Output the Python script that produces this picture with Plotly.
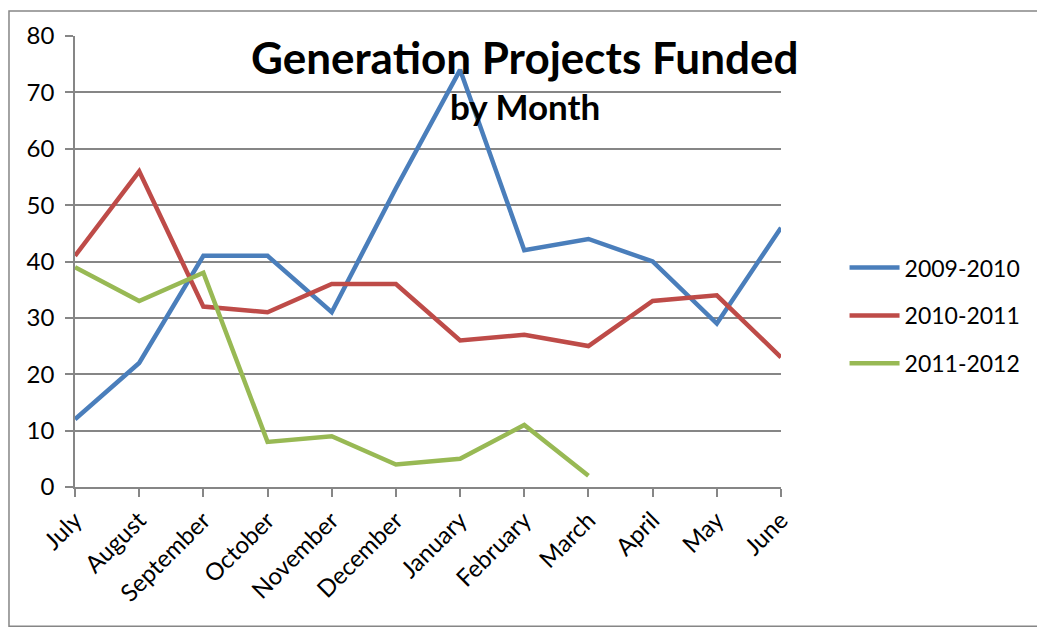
import plotly.graph_objects as go

months = ['July', 'August', 'September', 'October', 'November', 'December',
          'January', 'February', 'March', 'April', 'May', 'June']
fy0910 = [12, 22, 41, 41, 31, 53, 74, 42, 44, 40, 29, 46]
fy1011 = [41, 56, 32, 31, 36, 36, 26, 27, 25, 33, 34, 23]
fy1112 = [39, 33, 38, 8, 9, 4, 5, 11, 2]

series = [('2009-2010', fy0910, '#4A7EBB'),
          ('2010-2011', fy1011, '#BE4B48'),
          ('2011-2012', fy1112, '#98B954')]

FONT = 'Lato, Liberation Sans, sans-serif'
GRID = '#868686'

fig = go.Figure()
for name, vals, col in series:
    fig.add_trace(go.Scatter(x=months[:len(vals)], y=vals, name=name, mode='lines',
                             legendgroup=name,
                             line=dict(color=col, width=4.5)))

# page body has an 8px margin, so margins are shifted back by 8px
fig.update_layout(
    width=1045, height=631,
    margin=dict(l=67, r=272, t=26, b=152),
    paper_bgcolor='white', plot_bgcolor='white',
    font=dict(family=FONT, size=24, color='black'),
    showlegend=True,
    legend=dict(x=1.09, y=0.38, xanchor='left', yanchor='middle',
                font=dict(size=23), itemwidth=50, tracegroupgap=15,
                bgcolor='rgba(0,0,0,0)'),
    xaxis=dict(type='category', categoryarray=months, range=[0, 11],
               showgrid=False, showline=True, linecolor=GRID, linewidth=1.5,
               ticks='outside', ticklen=8, tickcolor=GRID, tickwidth=1.5,
               tickangle=-45, tickfont=dict(size=24)),
    yaxis=dict(range=[0, 80], dtick=10, showgrid=True, gridcolor=GRID, gridwidth=1.5,
               showline=True, linecolor=GRID, linewidth=1.5, zeroline=False,
               ticks='outside', ticklen=8, tickcolor=GRID, tickwidth=1.5,
               tickfont=dict(size=24), ticklabelstandoff=6),
)

fig.add_annotation(text='<b>Generation Projects Funded</b>', xref='paper', yref='paper',
                   x=0.637, y=0.953, xanchor='center', yanchor='middle', showarrow=False,
                   font=dict(size=44, family=FONT))
fig.add_annotation(text='<b>by Month</b>', xref='paper', yref='paper',
                   x=0.637, y=0.845, xanchor='center', yanchor='middle', showarrow=False,
                   font=dict(size=35, family=FONT))

# outer chart frame
fig.add_shape(type='rect', xref='paper', yref='paper',
              x0=-0.0935, x1=1.3669, y0=-0.309, y1=1.0552,
              line=dict(color=GRID, width=1.5), layer='below')

fig.write_html('out.html')
